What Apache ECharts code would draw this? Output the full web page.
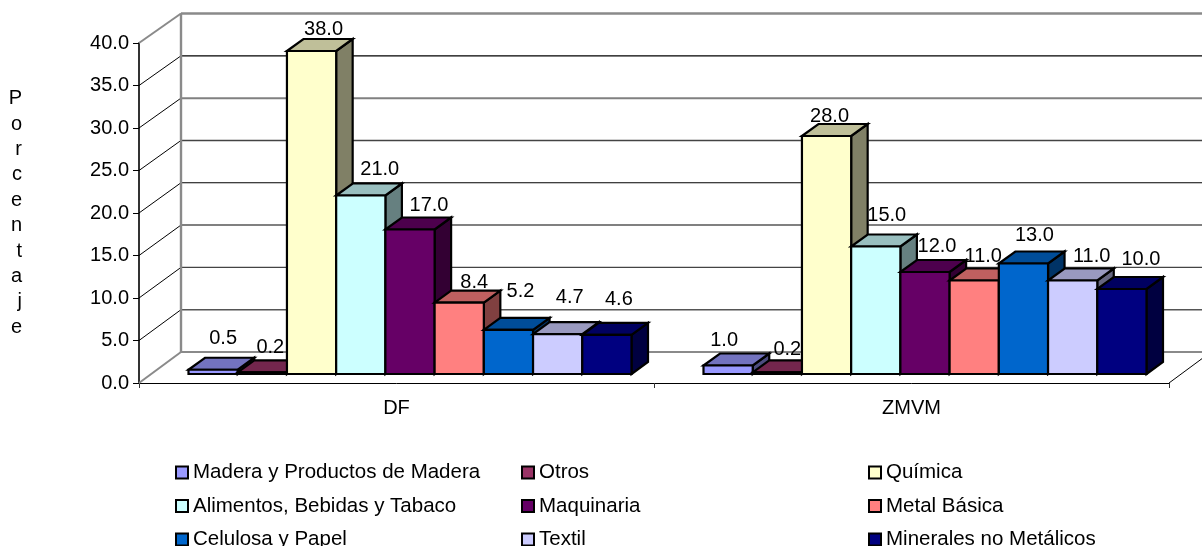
<!DOCTYPE html>
<html>
<head>
<meta charset="utf-8">
<style>html,body{margin:0;padding:0;background:#fff}#chart{width:1202px;height:546px}</style>
<script src="https://cdn.jsdelivr.net/npm/echarts@6/dist/echarts.min.js"></script>
</head>
<body>
<div id="chart"></div>
<script>
// Participación por rama industrial (porcentaje), DF y ZMVM
const regions = ['DF', 'ZMVM'];
const yTicks = [0, 5, 10, 15, 20, 25, 30, 35, 40];

const madera = [0.5, 1.0];
const otros = [0.2, 0.2];
const quimica = [38.0, 28.0];
const alimentos = [21.0, 15.0];
const maquinaria = [17.0, 12.0];
const metal = [8.4, 11.0];
const celulosa = [5.2, 13.0];
const textil = [4.7, 11.0];
const minerales = [4.6, 10.0];

const branches = [
  { name: 'Madera y Productos de Madera', values: madera, color: '#9999FF', nudge: [[10, -31], [-4, -25]] },
  { name: 'Otros', values: otros, color: '#993366', nudge: [[8, -25], [10, -23]] },
  { name: 'Química', values: quimica, color: '#FFFFCC', nudge: [[12, -22], [3, -20]] },
  { name: 'Alimentos, Bebidas y Tabaco', values: alimentos, color: '#CCFFFF', nudge: [[19, -26], [11, -31]] },
  { name: 'Maquinaria', values: maquinaria, color: '#660066', nudge: [[19, -24], [12, -26]] },
  { name: 'Metal Básica', values: metal, color: '#FF8080', nudge: [[15, -20], [9, -24]] },
  { name: 'Celulosa y Papel', values: celulosa, color: '#0066CC', nudge: [[12, -38], [11, -28]] },
  { name: 'Textil', values: textil, color: '#CCCCFF', nudge: [[12, -37], [19, -24]] },
  { name: 'Minerales no Metálicos', values: minerales, color: '#000080', nudge: [[12, -35], [19, -30]] }
];

const FONT = '"Liberation Sans", Arial, sans-serif';
const FONT_SIZE = 20;
const LEGEND_FONT_SIZE = 20.5;

// Oblique projection of the 3D box: wall depth and bar depth in pixels
const WALL_DX = 42;
const BAR_DX = 16.5;
const BAR_DY = -12;
const BAR_SHIFT_X = 13.5;
const BAR_SHIFT_Y = -9;
const GAP_RATIO = 36 / 515;

function wallRise(v) {
  return -31 + 1.5 * v / 40;
}

function shade(hex, f) {
  const n = parseInt(hex.slice(1), 16);
  const c = [(n >> 16) & 255, (n >> 8) & 255, n & 255].map(x => Math.round(x * f));
  return `rgb(${c[0]},${c[1]},${c[2]})`;
}

// Wall strokes alternate slightly because of how the thin lines fall on the pixel grid
const wallStroke = {
  0: ['#8a8a8a', 2], 5: ['#555555', 1.4], 10: ['#444444', 1.4], 15: ['#808080', 2],
  20: ['#000000', 1.2], 25: ['#444444', 1.4], 30: ['#808080', 2], 35: ['#000000', 1.2], 40: ['#8a8a8a', 2.4]
};

function line(x1, y1, x2, y2, stroke, width) {
  return {
    type: 'line',
    shape: { x1, y1, x2, y2 },
    style: { stroke, lineWidth: width, fill: null }
  };
}

function renderWall(params, api) {
  const v = api.value(0);
  const band = api.size([1, 0])[0];
  const a = api.coord([0, v]);
  const x0 = a[0] - band / 2;
  const x1 = x0 + band * regions.length;
  const rise = wallRise(v);
  const s = wallStroke[v];
  const edge = v === 0 || v === 40;
  const children = [
    line(x0 + WALL_DX, a[1] + rise, x1 + WALL_DX, a[1] + rise, s[0], s[1]),
    line(x0, a[1], x0 + WALL_DX, a[1] + rise, edge ? '#8a8a8a' : '#000000', edge ? 2 : 1)
  ];
  if (v === 40) {
    const b = api.coord([0, 0]);
    children.push(line(x0 + WALL_DX, a[1] + rise, x0 + WALL_DX, b[1] + wallRise(0), '#8a8a8a', 2.4));
  }
  if (v === 0) {
    children.push(line(x1, a[1], x1 + WALL_DX, a[1] + rise, '#000000', 1));
  }
  return { type: 'group', children };
}

function makeBarRenderer(k, branch) {
  return function (params, api) {
    const i = api.value(0);
    const v = api.value(1);
    const band = api.size([1, 0])[0];
    const w = band * (1 - 2 * GAP_RATIO) / branches.length;
    const top = api.coord([i, v]);
    const base = api.coord([i, 0]);
    const x0 = base[0] - band / 2 + band * GAP_RATIO + BAR_SHIFT_X + k * w;
    const x1 = x0 + w;
    const yb = base[1] + BAR_SHIFT_Y;
    const yt = top[1] + BAR_SHIFT_Y;
    const outline = { stroke: '#000000', lineWidth: 2.2, lineJoin: 'miter' };
    const nudge = branch.nudge[i];
    return {
      type: 'group',
      children: [
        {
          type: 'polygon',
          shape: { points: [[x1, yb], [x1 + BAR_DX, yb + BAR_DY], [x1 + BAR_DX, yt + BAR_DY], [x1, yt]] },
          style: { fill: shade(branch.color, 0.5), ...outline }
        },
        {
          type: 'polygon',
          shape: { points: [[x0, yt], [x0 + BAR_DX, yt + BAR_DY], [x1 + BAR_DX, yt + BAR_DY], [x1, yt]] },
          style: { fill: shade(branch.color, 0.75), ...outline }
        },
        {
          type: 'rect',
          shape: { x: x0, y: yt, width: w, height: yb - yt },
          style: { fill: branch.color, ...outline }
        },
        {
          type: 'text',
          z2: 100,
          style: {
            text: v.toFixed(1),
            x: (x0 + x1) / 2 + nudge[0],
            y: yt + nudge[1],
            fill: '#000000',
            font: `${FONT_SIZE}px ${FONT}`,
            textAlign: 'center',
            textVerticalAlign: 'middle'
          }
        }
      ]
    };
  };
}

const wallSeries = {
  type: 'custom',
  name: 'pared',
  coordinateSystem: 'cartesian2d',
  clip: false,
  silent: true,
  z: 1,
  encode: { y: 0 },
  data: yTicks.map(v => [v]),
  renderItem: renderWall
};

const barSeries = branches.map((b, k) => ({
  type: 'custom',
  name: b.name,
  coordinateSystem: 'cartesian2d',
  clip: false,
  z: 2,
  itemStyle: { color: b.color },
  encode: { x: 0, y: 1 },
  data: b.values.map((v, i) => [i, v]),
  renderItem: makeBarRenderer(k, b)
}));

function legendColumn(left, names) {
  return {
    orient: 'vertical',
    left,
    top: 462,
    height: 120,
    padding: 0,
    icon: 'rect',
    itemWidth: 12,
    itemHeight: 12,
    itemGap: 12.5,
    selectedMode: false,
    itemStyle: { borderColor: '#000000', borderWidth: 2 },
    textStyle: { fontFamily: FONT, fontSize: LEGEND_FONT_SIZE, color: '#000000' },
    data: names
  };
}

const chart = echarts.init(document.getElementById('chart'), null, { renderer: 'canvas' });
chart.setOption({
  animation: false,
  backgroundColor: '#ffffff',
  grid: { left: 139, right: 33, top: 43, height: 340, containLabel: false },
  legend: [
    legendColumn(175, [branches[0].name, branches[3].name, branches[6].name]),
    legendColumn(521, [branches[1].name, branches[4].name, branches[7].name]),
    legendColumn(868, [branches[2].name, branches[5].name, branches[8].name])
  ],
  xAxis: {
    type: 'category',
    data: regions,
    axisLine: { show: true, lineStyle: { color: '#000000', width: 1 } },
    axisTick: { show: true, length: 5, lineStyle: { color: '#333333', width: 1 } },
    axisLabel: { margin: 15, fontFamily: FONT, fontSize: FONT_SIZE, color: '#000000' }
  },
  yAxis: {
    type: 'value',
    min: 0,
    max: 40,
    interval: 5,
    name: 'Porcentaje'.split('').join('\n'),
    nameLocation: 'middle',
    nameRotate: 0,
    nameGap: 117,
    nameTextStyle: { fontFamily: FONT, fontSize: FONT_SIZE, lineHeight: 25.4, color: '#000000' },
    axisLine: { show: true, lineStyle: { color: '#333333', width: 2 } },
    axisTick: { show: true, length: 6, lineStyle: { color: '#000000', width: 1 } },
    axisLabel: {
      margin: 10,
      fontFamily: FONT,
      fontSize: FONT_SIZE,
      color: '#000000',
      formatter: v => v.toFixed(1)
    },
    splitLine: { show: false }
  },
  series: [wallSeries].concat(barSeries)
});
</script>
</body>
</html>
